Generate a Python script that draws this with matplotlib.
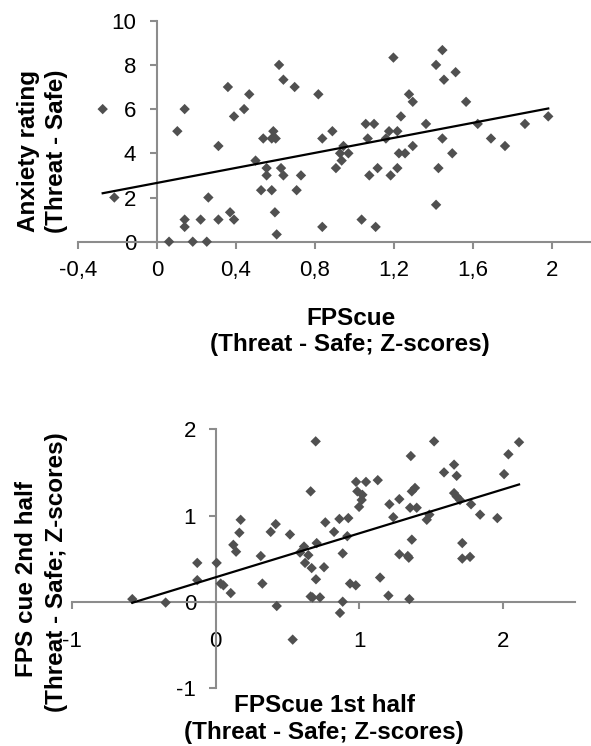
import matplotlib
matplotlib.use("Agg")
import matplotlib.pyplot as plt
import numpy as np

plt.rcParams["font.family"] = ["Liberation Sans", "DejaVu Sans"]
plt.rcParams["axes.unicode_minus"] = False

W, H, DPI = 591, 746, 100
AXIS_GRAY = "#8c8c8c"
DOT = "#505050"

# --- top panel: FPScue vs anxiety rating
FPS_CUE = [-0.275, -0.216, 0.061, 0.103, 0.140, 0.140, 0.140, 0.181, 0.221, 0.252,
           0.260, 0.311, 0.311, 0.359, 0.370, 0.390, 0.390, 0.441, 0.467, 0.499,
           0.527, 0.538, 0.555, 0.555, 0.581, 0.589, 0.581, 0.601, 0.597, 0.606,
           0.618, 0.628, 0.640, 0.640, 0.697, 0.707, 0.729, 0.817, 0.837, 0.837,
           0.888, 0.906, 0.935, 0.927, 0.944, 0.969, 1.036, 1.057, 1.099, 1.067,
           1.075, 1.107, 1.117, 1.159, 1.175, 1.183, 1.197, 1.217, 1.217, 1.225,
           1.235, 1.256, 1.276, 1.295, 1.295, 1.362, 1.413, 1.413, 1.425, 1.445,
           1.445, 1.453, 1.495, 1.512, 1.565, 1.624, 1.691, 1.762, 1.863, 1.981]
ANXIETY = [6.0, 2.0, 0.0, 5.0, 6.0, 1.0, 0.67, 0.0, 1.0, 0.0,
           2.0, 4.33, 1.0, 7.0, 1.33, 1.0, 5.67, 6.0, 6.67, 3.67,
           2.33, 4.67, 3.33, 3.0, 2.33, 5.0, 4.67, 4.67, 1.33, 0.33,
           8.0, 3.33, 3.0, 7.33, 7.0, 2.33, 3.0, 6.67, 4.67, 0.67,
           5.0, 3.33, 3.67, 4.0, 4.33, 4.0, 1.0, 5.33, 5.33, 4.67,
           3.0, 0.67, 3.33, 4.67, 5.0, 3.0, 8.33, 5.0, 3.33, 4.0,
           5.67, 4.0, 6.67, 6.33, 4.33, 5.33, 8.0, 1.67, 3.33, 8.67,
           4.67, 7.33, 4.0, 7.67, 6.33, 5.33, 4.67, 4.33, 5.33, 5.67]
TOP_FIT = (2.66, 1.70)  # intercept, slope
TOP_XTICKS = [-0.4, 0, 0.4, 0.8, 1.2, 1.6, 2.0]
TOP_XTICKLABELS = ["-0,4", "0", "0,4", "0,8", "1,2", "1,6", "2"]
TOP_YTICKS = [0, 2, 4, 6, 8, 10]

# --- bottom panel: FPScue 1st half vs 2nd half
FPS_1ST = [-0.579, -0.347, -0.127, -0.127, 0.008, 0.036, 0.055, 0.106, 0.124, 0.143,
           0.166, 0.175, 0.315, 0.326, 0.384, 0.419, 0.426, 0.518, 0.537, 0.588,
           0.616, 0.646, 0.623, 0.662, 0.697, 0.699, 0.704, 0.669, 0.662, 0.675,
           0.727, 0.755, 0.764, 0.825, 0.862, 0.866, 0.885, 0.885, 0.924, 0.917,
           0.936, 0.976, 0.978, 0.987, 1.047, 1.022, 1.017, 0.999, 1.129, 1.145,
           1.203, 1.210, 1.237, 1.279, 1.279, 1.338, 1.345, 1.349, 1.359, 1.366,
           1.354, 1.400, 1.366, 1.388, 1.470, 1.488, 1.521, 1.590, 1.660, 1.678,
           1.660, 1.678, 1.701, 1.717, 1.717, 1.771, 1.778, 1.841, 1.961, 2.008,
           2.038, 2.112]
FPS_2ND = [0.03, -0.01, 0.45, 0.25, 0.45, 0.21, 0.19, 0.10, 0.66, 0.58,
           0.80, 0.95, 0.53, 0.21, 0.81, 0.90, -0.05, 0.78, -0.44, 0.57,
           0.64, 0.54, 0.45, 1.28, 1.86, 0.26, 0.68, 0.39, 0.06, 0.05,
           0.05, 0.40, 0.92, 0.81, 0.96, -0.13, 0.56, 0.00, 0.97, 0.76,
           0.21, 0.19, 1.39, 1.28, 1.39, 1.24, 1.18, 1.10, 1.41, 0.28,
           0.07, 1.13, 0.98, 1.19, 0.55, 0.53, 0.51, 0.03, 1.69, 0.72,
           1.09, 1.09, 1.28, 1.32, 0.95, 1.01, 1.86, 1.50, 1.59, 1.46,
           1.26, 1.22, 1.18, 0.68, 0.50, 0.52, 1.13, 1.01, 0.97, 1.48,
           1.71, 1.85]
BOT_FIT = (0.283, 0.51)
BOT_XTICKS = [-1, 0, 1, 2]
BOT_YTICKS = [-1, 0, 1, 2]


def fx(px):
    return px / W


def fy(py):
    return 1 - py / H


def style_axes(ax, ypad, xpad):
    for side in ("top", "right"):
        ax.spines[side].set_visible(False)
    for side in ("left", "bottom"):
        ax.spines[side].set_position(("data", 0))
        ax.spines[side].set_color(AXIS_GRAY)
        ax.spines[side].set_linewidth(1.5)
    ax.tick_params(axis="both", direction="out", length=5, width=1.5,
                   color=AXIS_GRAY, labelsize=16, labelcolor="black")
    ax.tick_params(axis="y", pad=ypad)
    ax.tick_params(axis="x", pad=xpad)


def draw_panel(ax, xs, ys, fit):
    ax.scatter(xs, ys, marker="D", s=28, color=DOT, edgecolors="none",
               zorder=3, clip_on=False)
    x0, x1 = min(xs), max(xs)
    xx = np.array([x0, x1])
    ax.plot(xx, fit[0] + fit[1] * xx, color="black", lw=1.6, zorder=4,
            clip_on=False)


fig = plt.figure(figsize=(W / DPI, H / DPI), dpi=DPI)

# top panel
ax1 = fig.add_axes([fx(78), fy(241.7), fx(591.5) - fx(78), fy(20.7) - fy(241.7)])
draw_panel(ax1, FPS_CUE, ANXIETY, TOP_FIT)
ax1.set_xlim(-0.4, 2.2)
ax1.set_ylim(0, 10)
ax1.set_xticks(TOP_XTICKS)
ax1.set_xticklabels(TOP_XTICKLABELS)
ax1.set_yticks(TOP_YTICKS)
style_axes(ax1, ypad=10, xpad=8)

# bottom panel
ax2 = fig.add_axes([fx(71.8), fy(687.9), fx(574.8) - fx(71.8), fy(429.3) - fy(687.9)])
draw_panel(ax2, FPS_1ST, FPS_2ND, BOT_FIT)
ax2.set_xlim(-1, 2.5)
ax2.set_ylim(-1, 2)
ax2.set_xticks(BOT_XTICKS)
ax2.set_yticks(BOT_YTICKS)
style_axes(ax2, ypad=9, xpad=16)

# axis titles (bold, two lines each)
lab = dict(fontsize=17.5, fontweight="bold", ha="center", va="center")
fig.text(fx(29), fy(151), "Anxiety rating", rotation=90, **lab)
fig.text(fx(57), fy(151), "(Threat - Safe)", rotation=90, **lab)
fig.text(fx(351), fy(318), "FPScue", **lab)
fig.text(fx(350), fy(345), "(Threat - Safe; Z-scores)", **lab)

fig.text(fx(27), fy(579), "FPS cue 2nd half", rotation=90, **lab)
fig.text(fx(56), fy(572), "(Threat - Safe; Z-scores)", rotation=90, **lab)
fig.text(fx(325), fy(706), "FPScue 1st half", **lab)
fig.text(fx(324), fy(733), "(Threat - Safe; Z-scores)", **lab)

fig.savefig("out.png", dpi=DPI, facecolor="white")
